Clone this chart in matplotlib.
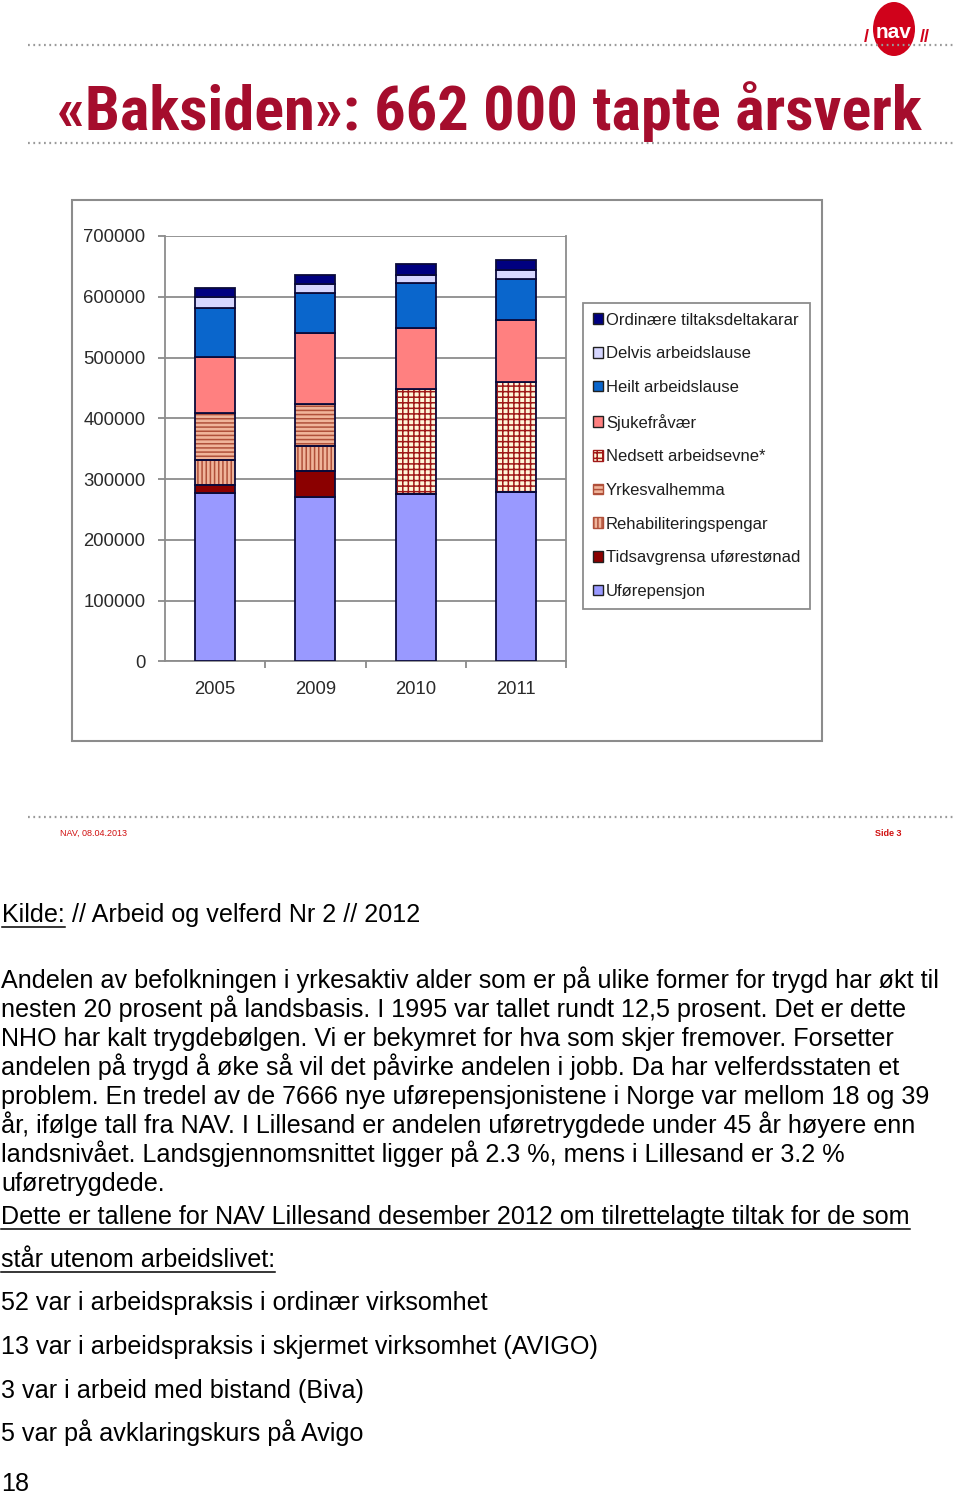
import numpy as np
import matplotlib
matplotlib.use('Agg')
import matplotlib.pyplot as plt
from matplotlib.patches import Rectangle, Ellipse, Patch
from matplotlib.lines import Line2D
from matplotlib.transforms import IdentityTransform
from matplotlib import font_manager

W, H = 960, 1494

# ---------------- data ----------------
years = ['2005', '2009', '2010', '2011']
uforepensjon = [276500, 271100, 275600, 279300]
tidsavgrensa = [13800, 42700, 0, 0]
rehabilitering = [41100, 41100, 0, 0]
yrkesvalhemma = [78200, 69500, 0, 0]
nedsett = [0, 0, 172500, 180800]
sjukefravaer = [91500, 116700, 101200, 101400]
heilt_arbeidslause = [80100, 65700, 72900, 67300]
delvis_arbeidslause = [19000, 13800, 13700, 15300]
ordinaere = [13800, 15300, 17600, 15900]
yticks = [0, 100000, 200000, 300000, 400000, 500000, 600000, 700000]

series_labels = ['Uførepensjon', 'Tidsavgrensa uførestønad', 'Rehabiliteringspengar',
                 'Yrkesvalhemma', 'Nedsett arbeidsevne*', 'Sjukefråvær',
                 'Heilt arbeidslause', 'Delvis arbeidslause', 'Ordinære tiltaksdeltakarar']

title = '«Baksiden»: 662 000 tapte årsverk'
kilde_rest = ' // Arbeid og velferd Nr 2 // 2012'
paragraph = [
    'Andelen av befolkningen i yrkesaktiv alder som er på ulike former for trygd har økt til',
    'nesten 20 prosent på landsbasis. I 1995 var tallet rundt 12,5 prosent. Det er dette',
    'NHO har kalt trygdebølgen. Vi er bekymret for hva som skjer fremover. Forsetter',
    'andelen på trygd å øke så vil det påvirke andelen i jobb. Da har velferdsstaten et',
    'problem. En tredel av de 7666 nye uførepensjonistene i Norge var mellom 18 og 39',
    'år, ifølge tall fra NAV. I Lillesand er andelen uføretrygdede under 45 år høyere enn',
    'landsnivået. Landsgjennomsnittet ligger på 2.3 %, mens i Lillesand er 3.2 %',
    'uføretrygdede.',
]
underlined = [
    'Dette er tallene for NAV Lillesand desember 2012 om tilrettelagte tiltak for de som',
    'står utenom arbeidslivet:',
]
items = [
    '52 var i arbeidspraksis i ordinær virksomhet',
    '13 var i arbeidspraksis i skjermet virksomhet (AVIGO)',
    '3 var i arbeid med bistand (Biva)',
    '5 var på avklaringskurs på Avigo',
    '18',
]

# ---------------- style ----------------
plt.rcParams['font.family'] = ['Liberation Sans', 'DejaVu Sans']
plt.rcParams['hatch.linewidth'] = 1.1

names = {f.name for f in font_manager.fontManager.ttflist}
title_font = next((n for n in ['Liberation Sans Narrow', 'DejaVu Sans Condensed',
                               'Roboto Condensed', 'Open Sans Condensed']
                   if n in names), 'Liberation Sans')

def fx(x):
    return x / W

def fy(y):
    return 1 - y / H

fig = plt.figure(figsize=(W / 100, H / 100), dpi=100)
fig.patch.set_facecolor('white')

# dotted rules
def dotted(y, x0=28, x1=956):
    fig.add_artist(Line2D([fx(x0), fx(x1)], [fy(y), fy(y)], transform=fig.transFigure,
                          color='#9a9a9a', lw=1.6, ls=(0, (0.8, 1.6))))

dotted(45)
dotted(143)
dotted(817)

# NAV logo
logo = Ellipse((fx(894), fy(29)), 42 / W, 54 / H, transform=fig.transFigure,
               facecolor='#d0021b', edgecolor='none')
fig.add_artist(logo)
fig.text(fx(894), fy(33), 'nav', color='white', fontsize=15, fontweight='bold',
         ha='center', va='center')
fig.text(fx(866), fy(38), '/', color='#d0021b', fontsize=13, fontweight='bold',
         ha='center', va='center')
fig.text(fx(925), fy(38), '//', color='#d0021b', fontsize=13, fontweight='bold',
         ha='center', va='center')

# title
t_title = fig.text(fx(57), fy(130), title, color='#a50d2d', fontsize=46,
                   fontweight='bold', family=title_font, ha='left', va='baseline')

# footer
fig.text(fx(60), fy(836), 'NAV, 08.04.2013', color='#d01010', fontsize=6.5, ha='left',
         va='baseline')
fig.text(fx(875), fy(836), 'Side 3', color='#d01010', fontsize=6.5, ha='left',
         va='baseline', fontweight='bold')

# chart frame
fig.add_artist(Rectangle((fx(72), fy(741)), (822 - 72) / W, (741 - 200) / H,
                         transform=fig.transFigure, fill=False, edgecolor='#8c8c8c', lw=1.5))

# ---------------- chart ----------------
ax = fig.add_axes([fx(165), fy(661.5), (566 - 165) / W, (661.5 - 236) / H])
x = np.arange(len(years))
data = [uforepensjon, tidsavgrensa, rehabilitering, yrkesvalhemma, nedsett,
        sjukefravaer, heilt_arbeidslause, delvis_arbeidslause, ordinaere]
faces = ['#9999ff', '#8b0000', '#f0b49a', '#f0b49a', '#fff6d8', '#ff8080',
         '#0a66cc', '#d6d6ff', '#000080']
hatches = [None, None, '||||', '----', '+++', None, None, None, None]
hatch_cols = [None, None, '#b0503a', '#b0503a', '#a01818', None, None, None, None]
outline = '#0a0a3a'
bw = 0.4
bottom = np.zeros(len(years))
handles = []
for vals, fc, hh, hc, lab in zip(data, faces, hatches, hatch_cols, series_labels):
    vals = np.array(vals, dtype=float)
    if hh:
        ax.bar(x, vals, bw, bottom=bottom, color=fc, edgecolor=hc, hatch=hh, lw=0, zorder=2)
        ax.bar(x, vals, bw, bottom=bottom, fill=False, edgecolor=outline, lw=1.3, zorder=3)
        handles.append(Patch(facecolor=fc, edgecolor=hc, hatch=hh, lw=1, label=lab))
    else:
        ax.bar(x, vals, bw, bottom=bottom, color=fc, edgecolor=outline, lw=1.3, zorder=3)
        handles.append(Patch(facecolor=fc, edgecolor='#202020', lw=1, label=lab))
    bottom += vals

ax.set_xlim(-0.5, 3.5)
ax.set_ylim(0, 700000)
ax.set_yticks(yticks)
ax.set_yticklabels([str(v) for v in yticks])
ax.set_xticks(x)
ax.set_xticklabels(years)
ax.set_xticks([0.5, 1.5, 2.5, 3.5], minor=True)
ax.tick_params(axis='x', which='major', length=0, pad=14, labelsize=13.3, labelcolor='#2a2a2a')
ax.tick_params(axis='x', which='minor', length=5, color='#808080', width=1.2)
ax.tick_params(axis='y', length=5, color='#808080', width=1.2, pad=9, labelsize=13.3,
               labelcolor='#2a2a2a')
ax.grid(axis='y', color='#8c8c8c', lw=1.3, zorder=0)
ax.set_axisbelow(True)
for side in ['left', 'bottom', 'right']:
    ax.spines[side].set_color('#8c8c8c')
    ax.spines[side].set_linewidth(1.3)
ax.spines['top'].set_visible(False)

leg = fig.legend(handles=handles[::-1], loc='upper left',
                 bbox_to_anchor=(fx(583), fy(303)), bbox_transform=fig.transFigure,
                 fontsize=12, labelspacing=1.12, handlelength=0.6, handleheight=0.6,
                 handletextpad=0.2, borderpad=0.58, borderaxespad=0, fancybox=False,
                 edgecolor='#8c8c8c', framealpha=1)
leg.get_frame().set_linewidth(1.3)
for t in leg.get_texts():
    t.set_color('#1e1e1e')

# ---------------- text below ----------------
fs = 18.1
t_k = fig.text(fx(2), fy(922), 'Kilde:', fontsize=fs, color='black', ha='left', va='baseline')
fig.canvas.draw()
r = fig.canvas.get_renderer()
bbk = t_k.get_window_extent(r)
fig.text(bbk.x1 / W, fy(922), kilde_rest, fontsize=fs, color='black', ha='left',
         va='baseline')

# scale title to width
bb = t_title.get_window_extent(r)
target = 922 - 57
t_title.set_fontsize(46 * target / bb.width if bb.width > 0 else 46)

def underline(tobj, ybase):
    b = tobj.get_window_extent(fig.canvas.get_renderer())
    yy = H - (ybase + 4.5)
    fig.add_artist(Line2D([b.x0, b.x1], [yy, yy], transform=IdentityTransform(),
                          color='black', lw=1.1))

underline(t_k, 922)

for i, line in enumerate(paragraph):
    fig.text(fx(1), fy(988 + 29 * i), line, fontsize=fs, color='black', ha='left',
             va='baseline')

ul_y = [1224, 1267]
for line, yb in zip(underlined, ul_y):
    tt = fig.text(fx(1), fy(yb), line, fontsize=fs, color='black', ha='left', va='baseline')
    fig.canvas.draw()
    underline(tt, yb)

item_y = [1310, 1354, 1398, 1441, 1491]
for line, yb in zip(items, item_y):
    fig.text(fx(1), fy(yb), line, fontsize=fs, color='black', ha='left', va='baseline')

fig.savefig('out.png', dpi=100, facecolor='white')
